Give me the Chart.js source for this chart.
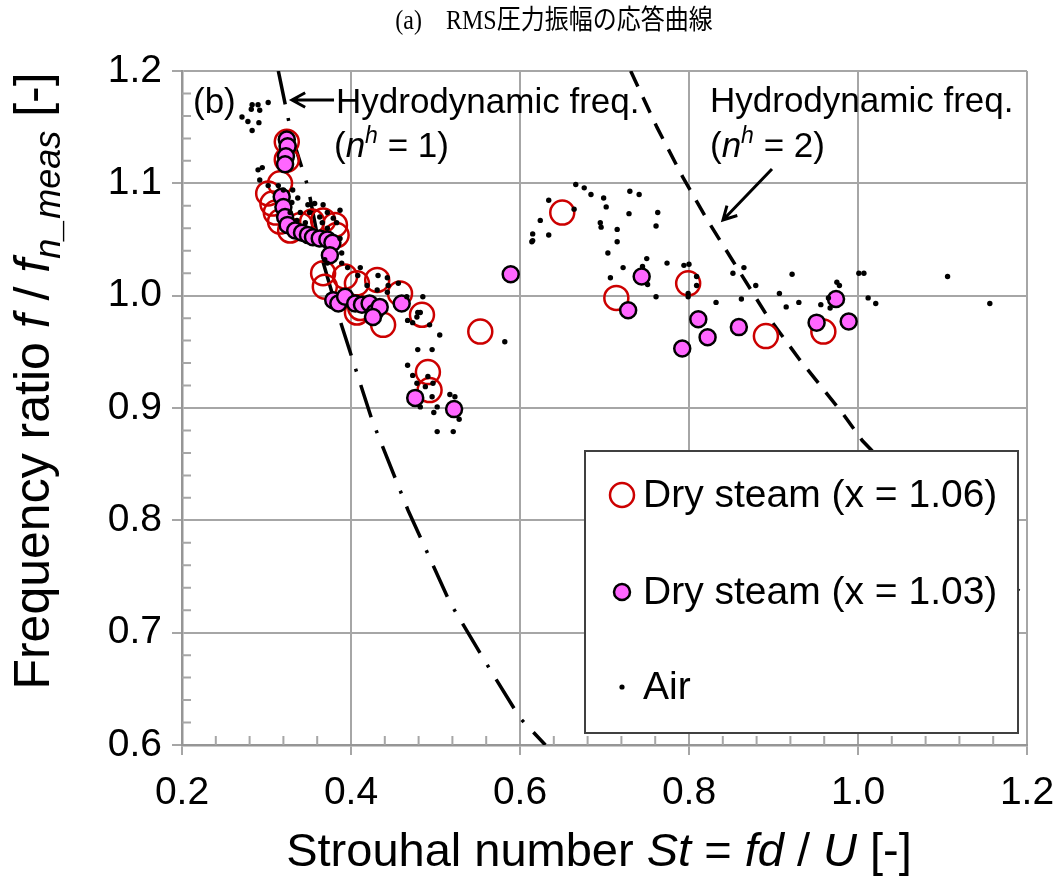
<!DOCTYPE html>
<html>
<head>
<meta charset="utf-8">
<script src="https://cdn.jsdelivr.net/npm/chart.js@4.4.1/dist/chart.umd.min.js"></script>
<style>
  html, body { margin: 0; padding: 0; background: #fff; }
</style>
</head>
<body>
<canvas id="freqChart" width="1058" height="878"></canvas>
<script>
// tick labels
const xTicks = [0.2, 0.4, 0.6, 0.8, 1.0, 1.2];
const yTicks = [0.6, 0.7, 0.8, 0.9, 1.0, 1.1, 1.2];

// Dry steam (x = 1.06) : [St, f/fn]
const steam106 = [
  [0.324,1.137],[0.324,1.121],[0.316,1.100],[0.302,1.091],[0.307,1.082],[0.311,1.074],
  [0.316,1.066],[0.328,1.058],[0.340,1.063],[0.354,1.066],[0.367,1.067],[0.381,1.063],
  [0.383,1.054],[0.367,1.020],[0.369,1.008],[0.393,1.017],[0.407,1.011],[0.431,1.014],
  [0.407,0.985],[0.411,0.989],[0.438,0.974],[0.458,1.002],[0.484,0.983],[0.491,0.932],
  [0.493,0.916],[0.553,0.968],[0.650,1.074],[0.714,0.998],[0.799,1.011],[0.891,0.964],
  [0.959,0.968]
];

// Dry steam (x = 1.03)
const steam103 = [
  [0.324,1.139],[0.325,1.133],[0.323,1.124],[0.322,1.117],[0.318,1.088],[0.320,1.079],
  [0.322,1.070],[0.325,1.063],[0.334,1.058],[0.342,1.056],[0.349,1.054],[0.355,1.052],
  [0.363,1.051],[0.372,1.050],[0.378,1.047],[0.375,1.036],[0.379,0.996],[0.385,0.993],
  [0.393,0.999],[0.405,0.993],[0.413,0.992],[0.422,0.993],[0.428,0.985],[0.434,0.990],
  [0.426,0.981],[0.460,0.993],[0.476,0.909],[0.522,0.899],[0.589,1.019],[0.744,1.017],
  [0.728,0.987],[0.811,0.979],[0.822,0.963],[0.792,0.953],[0.859,0.972],[0.951,0.976],
  [0.989,0.977],[0.974,0.997]
];

// Air
const air = [
  [0.283,1.170],[0.290,1.170],[0.302,1.172],[0.282,1.166],[0.292,1.165],[0.271,1.159],
  [0.278,1.155],[0.291,1.154],[0.283,1.147],[0.295,1.114],[0.290,1.112],[0.292,1.103],
  [0.302,1.098],[0.314,1.098],[0.320,1.094],[0.331,1.094],[0.337,1.087],[0.330,1.083],
  [0.349,1.081],[0.357,1.082],[0.367,1.081],[0.387,1.076],[0.340,1.074],[0.351,1.074],
  [0.363,1.070],[0.372,1.074],[0.328,1.074],[0.336,1.067],[0.346,1.065],[0.379,1.069],
  [0.383,1.065],[0.366,1.065],[0.372,1.060],[0.387,1.051],[0.389,1.038],[0.369,1.032],
  [0.396,1.025],[0.411,1.025],[0.372,1.029],[0.389,1.029],[0.408,1.018],[0.419,1.009],
  [0.432,1.018],[0.444,1.009],[0.456,1.011],[0.443,1.016],[0.431,1.005],[0.443,1.003],
  [0.466,0.999],[0.485,0.999],[0.479,0.985],[0.478,0.981],[0.467,0.978],[0.473,0.976],
  [0.493,0.974],[0.505,0.965],[0.482,0.985],[0.479,0.952],[0.496,0.952],[0.467,0.938],
  [0.473,0.929],[0.478,0.922],[0.491,0.928],[0.497,0.922],[0.488,0.919],[0.496,0.910],
  [0.502,0.901],[0.498,0.896],[0.482,0.901],[0.517,0.912],[0.523,0.910],[0.528,0.890],
  [0.502,0.879],[0.521,0.879],[0.614,1.048],[0.582,0.959],
  [0.666,1.099],[0.676,1.096],[0.684,1.090],[0.699,1.087],[0.702,1.079],[0.730,1.093],
  [0.741,1.090],[0.729,1.073],[0.763,1.074],[0.761,1.062],[0.634,1.085],[0.624,1.067],
  [0.615,1.055],[0.615,1.049],[0.634,1.054],[0.664,1.077],[0.695,1.065],[0.696,1.061],
  [0.715,1.059],[0.715,1.048],[0.704,1.038],[0.750,1.033],[0.774,1.029],[0.722,1.025],
  [0.707,1.016],[0.745,1.026],[0.751,1.010],[0.761,0.999],[0.794,1.027],[0.800,1.028],
  [0.809,1.017],[0.809,1.009],[0.799,1.002],[0.799,0.999],[0.832,0.994],
  [0.865,1.025],[0.852,1.020],[0.879,1.009],[0.922,1.019],[0.907,1.002],[0.862,0.997],
  [0.915,0.990],[0.930,0.994],[0.956,0.992],[0.965,0.998],[0.967,0.989],[1.001,1.020],
  [1.007,1.020],[1.012,0.998],[1.021,0.993],[1.106,1.017],[1.156,0.993],[0.975,1.012],
  [0.978,1.009]
];

// hydrodynamic frequency curves
const hydro1 = [
  [0.314,1.200],[0.330,1.142],[0.349,1.097],[0.365,1.035],[0.387,0.978],[0.425,0.889],
  [0.4675,0.809],[0.517,0.727],[0.559,0.674],[0.600,0.624],[0.630,0.600]
];
const hydro2 = [
  [0.731,1.200],[0.762,1.150],[0.793,1.105],[0.822,1.067],[0.851,1.032],[0.890,0.985],
  [0.931,0.943],[0.982,0.895],[1.005,0.871],[1.100,0.797],[1.200,0.731]
];

const SANS = "'Liberation Sans', Arial, sans-serif";
const gridColor = '#a6a6a6';
const axisColor = '#969696';
const red = '#cc0000';
const pink = '#ff66ff';

const toPts = arr => arr.map(p => ({ x: p[0], y: p[1] }));

function drawRich(ctx, parts, x, y, angle, align) {
  ctx.save();
  ctx.translate(x, y);
  ctx.rotate(angle);
  ctx.textBaseline = 'alphabetic';
  ctx.textAlign = 'left';
  let total = 0;
  parts.forEach(p => { ctx.font = p.font; total += ctx.measureText(p.text).width; });
  let cx = align === 'center' ? -total / 2 : 0;
  parts.forEach(p => {
    ctx.font = p.font;
    ctx.fillText(p.text, cx, p.dy || 0);
    cx += ctx.measureText(p.text).width;
  });
  ctx.restore();
}

function arrow(ctx, x1, y1, x2, y2) {
  const a = Math.atan2(y2 - y1, x2 - x1);
  const h = 15;
  ctx.beginPath();
  ctx.moveTo(x1, y1);
  ctx.lineTo(x2, y2);
  ctx.moveTo(x2 - h * Math.cos(a - 0.5), y2 - h * Math.sin(a - 0.5));
  ctx.lineTo(x2, y2);
  ctx.lineTo(x2 - h * Math.cos(a + 0.5), y2 - h * Math.sin(a + 0.5));
  ctx.stroke();
}

const overlay = {
  id: 'overlay',
  beforeDatasetsDraw(chart) {
    const { ctx, chartArea: a, scales: { x, y } } = chart;
    ctx.save();
    ctx.strokeStyle = gridColor;
    ctx.lineWidth = 2;
    ctx.beginPath();
    for (let i = 1; i < 25; i++) {
      if (i % 5 === 0) continue;
      const px = x.getPixelForValue(0.2 + 0.04 * i);
      ctx.moveTo(px, a.bottom);
      ctx.lineTo(px, a.bottom - 9);
    }
    for (let i = 1; i < 30; i++) {
      if (i % 5 === 0) continue;
      const py = y.getPixelForValue(0.6 + 0.02 * i);
      ctx.moveTo(a.left, py);
      ctx.lineTo(a.left + 9, py);
    }
    ctx.stroke();
    ctx.restore();
  },
  afterDatasetsDraw(chart) {
    const { ctx } = chart;
    ctx.save();
    // legend box
    const lx = 585, ly = 451, lw = 433, lh = 282;
    ctx.fillStyle = '#fff';
    ctx.fillRect(lx, ly, lw, lh);
    ctx.strokeStyle = '#404040';
    ctx.lineWidth = 2;
    ctx.strokeRect(lx, ly, lw, lh);

    const items = [
      { label: 'Dry steam (x = 1.06)', y: 495, kind: 'ring' },
      { label: 'Dry steam (x = 1.03)', y: 592, kind: 'pink' },
      { label: 'Air', y: 687, kind: 'dot' }
    ];
    items.forEach(it => {
      ctx.beginPath();
      if (it.kind === 'ring') {
        ctx.arc(622, it.y, 12, 0, Math.PI * 2);
        ctx.strokeStyle = red; ctx.lineWidth = 2.5; ctx.stroke();
      } else if (it.kind === 'pink') {
        ctx.arc(622, it.y, 8, 0, Math.PI * 2);
        ctx.fillStyle = pink; ctx.fill();
        ctx.strokeStyle = '#000'; ctx.lineWidth = 2.5; ctx.stroke();
      } else {
        ctx.arc(622, it.y, 2.6, 0, Math.PI * 2);
        ctx.fillStyle = '#000'; ctx.fill();
      }
      ctx.fillStyle = '#000';
      ctx.font = '39px ' + SANS;
      ctx.textBaseline = 'middle';
      ctx.textAlign = 'left';
      ctx.fillText(it.label, 643, it.y + 1);
    });

    // annotations
    const n = '35px ' + SANS, ni = 'italic 35px ' + SANS, sup = 'italic 23px ' + SANS;
    ctx.fillStyle = '#000';
    drawRich(ctx, [{ text: '(b)', font: n }], 193, 113, 0, 'left');
    drawRich(ctx, [{ text: 'Hydrodynamic freq.', font: n }], 336, 113, 0, 'left');
    drawRich(ctx, [{ text: '(', font: n }, { text: 'n', font: ni }, { text: 'h', font: sup, dy: -14 },
      { text: ' = 1)', font: n }], 334, 157, 0, 'left');
    drawRich(ctx, [{ text: 'Hydrodynamic freq.', font: n }], 710, 112, 0, 'left');
    drawRich(ctx, [{ text: '(', font: n }, { text: 'n', font: ni }, { text: 'h', font: sup, dy: -14 },
      { text: ' = 2)', font: n }], 710, 157, 0, 'left');

    ctx.strokeStyle = '#000';
    ctx.lineWidth = 3;
    arrow(ctx, 334, 100, 292, 100);
    arrow(ctx, 772, 169, 723, 220);
    ctx.restore();
  },
  afterDraw(chart) {
    const { ctx } = chart;
    ctx.save();
    ctx.fillStyle = '#000';
    const t = '47px ' + SANS, ti = 'italic 47px ' + SANS;
    drawRich(ctx, [
      { text: 'Strouhal number ', font: t }, { text: 'St', font: ti }, { text: ' = ', font: t },
      { text: 'fd', font: ti }, { text: ' / ', font: t }, { text: 'U', font: ti }, { text: ' [-]', font: t }
    ], 599, 866, 0, 'center');

    const v = '50px ' + SANS, vi = 'italic 50px ' + SANS, sub = 'italic 36px ' + SANS;
    drawRich(ctx, [
      { text: 'Frequency ratio ', font: v }, { text: 'f', font: vi }, { text: ' / ', font: v },
      { text: 'f', font: vi }, { text: 'n_meas', font: sub, dy: 11 }, { text: ' [-]', font: v }
    ], 49, 381, -Math.PI / 2, 'center');

    ctx.save();
    ctx.translate(554, 22);
    ctx.scale(1, 1.12);
    ctx.font = "24px 'Liberation Serif', 'Noto Sans CJK JP', serif";
    ctx.textAlign = 'center';
    ctx.textBaseline = 'middle';
    ctx.fillText('(a)\u3000RMS圧力振幅の応答曲線', 0, 0);
    ctx.restore();
    ctx.restore();
  }
};

new Chart(document.getElementById('freqChart'), {
  type: 'scatter',
  data: {
    datasets: [
      {
        label: 'Air', data: toPts(air), order: 1,
        pointRadius: 2.7, pointBackgroundColor: '#000', pointBorderWidth: 0
      },
      {
        label: 'Dry steam (x = 1.03)', data: toPts(steam103), order: 2,
        pointRadius: 8, pointBackgroundColor: pink, pointBorderColor: '#000', pointBorderWidth: 2.5
      },
      {
        label: 'Dry steam (x = 1.06)', data: toPts(steam106), order: 3,
        pointRadius: 12, pointBackgroundColor: 'rgba(0,0,0,0)', pointBorderColor: red, pointBorderWidth: 2.5
      },
      {
        label: 'nh1', data: toPts(hydro1), order: 4, showLine: true, pointRadius: 0,
        borderColor: '#000', borderWidth: 3.5, borderDash: [34, 14, 3, 14]
      },
      {
        label: 'nh2', data: toPts(hydro2), order: 5, showLine: true, pointRadius: 0,
        borderColor: '#000', borderWidth: 3.5, borderDash: [17, 12]
      }
    ]
  },
  options: {
    responsive: false,
    animation: false,
    layout: { padding: { top: 71, right: 31, bottom: 0, left: 0 } },
    plugins: { legend: { display: false }, tooltip: { enabled: false } },
    scales: {
      x: {
        type: 'linear', min: 0.2, max: 1.2,
        afterFit: s => { s.height = 133; s.paddingLeft = 0; s.paddingRight = 0; },
        afterBuildTicks: s => { s.ticks = xTicks.map(v => ({ value: v })); },
        ticks: {
          callback: v => v.toFixed(1), color: '#000', padding: 15,
          font: { family: SANS, size: 39 }, maxRotation: 0, autoSkip: false
        },
        grid: { color: gridColor, lineWidth: 2, tickLength: 10, tickColor: gridColor },
        border: { color: axisColor, width: 2.5 }
      },
      y: {
        type: 'linear', min: 0.6, max: 1.2,
        afterFit: s => { s.width = 182; s.paddingTop = 0; s.paddingBottom = 0; },
        afterBuildTicks: s => { s.ticks = yTicks.map(v => ({ value: v })); },
        ticks: {
          callback: v => v.toFixed(1), color: '#000', padding: 10,
          font: { family: SANS, size: 39 }, autoSkip: false
        },
        grid: { color: gridColor, lineWidth: 2, tickLength: 10, tickColor: gridColor },
        border: { color: axisColor, width: 2.5 }
      }
    }
  },
  plugins: [overlay]
});
</script>
</body>
</html>
